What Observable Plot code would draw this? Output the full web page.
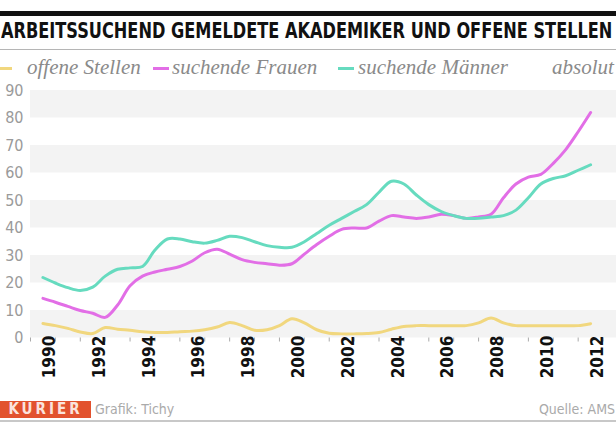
<!DOCTYPE html>
<html><head><meta charset="utf-8">
<script src="https://cdn.jsdelivr.net/npm/d3@7"></script>
<script src="https://cdn.jsdelivr.net/npm/@observablehq/plot@0.6"></script>
<style>
html,body{margin:0;padding:0;background:#fff;}
#wrap{position:relative;width:616px;height:424px;overflow:hidden;background:#fff;font-family:"DejaVu Sans",sans-serif;font-stretch:condensed;}
.abs{position:absolute;}
.leg{position:absolute;top:56px;font-family:"Liberation Serif","DejaVu Serif",serif;font-style:italic;font-size:21px;color:#8a8a8a;white-space:nowrap;line-height:22px;font-stretch:normal;}
.sw{position:absolute;top:67px;height:3px;width:15px;}
#wrap svg text{font-stretch:condensed;}
</style></head>
<body><div id="wrap"></div>
<script>
const years = [1990,1990.5,1991,1991.5,1992,1992.5,1993,1993.5,1994,1994.5,1995,1995.5,1996,1996.5,1997,1997.5,1998,1998.5,1999,1999.5,2000,2000.5,2001,2001.5,2002,2002.5,2003,2003.5,2004,2004.5,2005,2005.5,2006,2006.5,2007,2007.5,2008,2008.5,2009,2009.5,2010,2010.5,2011,2011.5,2012];
const offeneStellen = [5.3,4.5,3.5,2.2,1.6,3.8,3.2,2.8,2.3,2.0,2.0,2.3,2.5,3.0,4.0,5.6,4.5,2.8,3.0,4.5,7.0,5.5,3.0,1.7,1.5,1.5,1.6,2.0,3.2,4.2,4.5,4.5,4.5,4.5,4.5,5.5,7.3,5.5,4.5,4.5,4.5,4.5,4.5,4.5,5.2];
const suchendeFrauen = [14.4,13,11.5,10,9,7.5,12,19,22.5,24,25,26,28,31,32.3,30.5,28.5,27.5,27,26.5,27,30.5,34,37,39.5,40,40,42.5,44.5,44,43.5,44,45,44.5,43.5,44,45,51,56,58.5,59.5,63.5,68.5,75,82];
const suchendeMaenner = [22,20,18.3,17.3,18.5,22.5,25,25.5,26,32,36,36,35,34.5,35.5,37,36.5,35,33.6,33,33,35,38,41,43.5,46,48.5,53,57,56,52,48.5,46,44.5,43.5,43.5,44,44.5,46.5,51,56,58,59,61,63];
const seriesNames = ["offene Stellen","suchende Frauen","suchende Männer"];
const seriesColors = ["#f1d77e","#e26ee6","#66dbbf"];
const yTicks = [0,10,20,30,40,50,60,70,80,90];
const bandStarts = [0,20,40,60,80];
const xLabelYears = [1990,1992,1994,1996,1998,2000,2002,2004,2006,2008,2010,2012];
const xTickYears = d3.range(1989.5, 2013, 1);
const titleText = "ARBEITSSUCHEND GEMELDETE AKADEMIKER UND OFFENE STELLEN";

const rows = [];
[offeneStellen, suchendeFrauen, suchendeMaenner].forEach((arr, i) =>
  arr.forEach((v, j) => rows.push({year: years[j], value: v, series: seriesNames[i]})));
const bands = bandStarts.map(b => ({y1: b, y2: b + 10}));

const wrap = document.getElementById("wrap");
function el(html){ const d=document.createElement("div"); d.innerHTML=html; const n=d.firstElementChild; wrap.appendChild(n); return n; }

// header
el(`<div class="abs" style="left:0;top:11px;width:616px;height:5px;background:#111"></div>`);
const title = el(`<div class="abs" style="left:1px;top:18px;white-space:nowrap;font-weight:bold;font-size:20px;line-height:26px;color:#111;font-stretch:condensed;transform-origin:0 50%;transform:scale(1,1.22)">${titleText}</div>`);
const tw = title.getBoundingClientRect().width;
const fs = Math.min(24, 20 * 612 / tw);
title.style.fontSize = fs + "px";
el(`<div class="abs" style="left:0;top:49px;width:616px;height:1px;background:#b5b5b5"></div>`);
// legend
const legX = [[0,27],[153,172],[338,358]];
seriesNames.forEach((n,i)=>{
  el(`<div class="sw" style="left:${legX[i][0]}px;width:${i?16:12}px;background:${seriesColors[i]}"></div>`);
  el(`<div class="leg" style="left:${legX[i][1]}px">${n}</div>`);
});
el(`<div class="leg" style="left:552px">absolut</div>`);

// chart
const chart = Plot.plot({
  width: 616, height: 316,
  marginLeft: 30, marginRight: 0, marginTop: 10, marginBottom: 58.5,
  style: {fontFamily: "DejaVu Sans, sans-serif", background: "transparent"},
  x: {domain: [1989.5, 2013.04], axis: null},
  y: {domain: [0, 90], axis: null},
  color: {domain: seriesNames, range: seriesColors},
  marks: [
    Plot.rect(bands, {y1: "y1", y2: "y2", fill: "#f3f3f3"}),
    Plot.axisY(yTicks, {label: null, tickSize: 0, tickPadding: 7, fontSize: 16, fill: "#9a9a9a", tickFormat: d => String(d)}),
    Plot.axisX(xTickYears, {label: null, tickSize: 4, tickPadding: 0, stroke: "#aaa", tickFormat: () => ""}),
    Plot.axisX(xLabelYears, {label: null, tickSize: 0, tickPadding: 19, rotate: -90, fontSize: 17, fontWeight: "bold", fill: "#111", tickFormat: d => String(d)}),
    Plot.line(rows, {x: "year", y: "value", stroke: "series", z: "series", strokeWidth: 3, curve: "catmull-rom"})
  ]
});
chart.style.position = "absolute";
chart.style.left = "0px";
chart.style.top = "80px";
wrap.appendChild(chart);

// footer
el(`<div class="abs" style="left:0;top:401px;width:91px;height:17px;background:#e2522e;color:#fbe3dc;font-weight:bold;font-size:15px;line-height:17px;letter-spacing:3px;text-align:center">KURIER</div>`);
el(`<div class="abs" style="left:95px;top:401px;font-size:14px;line-height:17px;color:#aaa">Grafik: Tichy</div>`);
el(`<div class="abs" style="right:1px;top:401px;font-size:14px;line-height:17px;color:#aaa">Quelle: AMS</div>`);
el(`<div class="abs" style="left:0;top:420px;width:616px;height:2px;background:#c8c8c8"></div>`);
</script></body></html>
